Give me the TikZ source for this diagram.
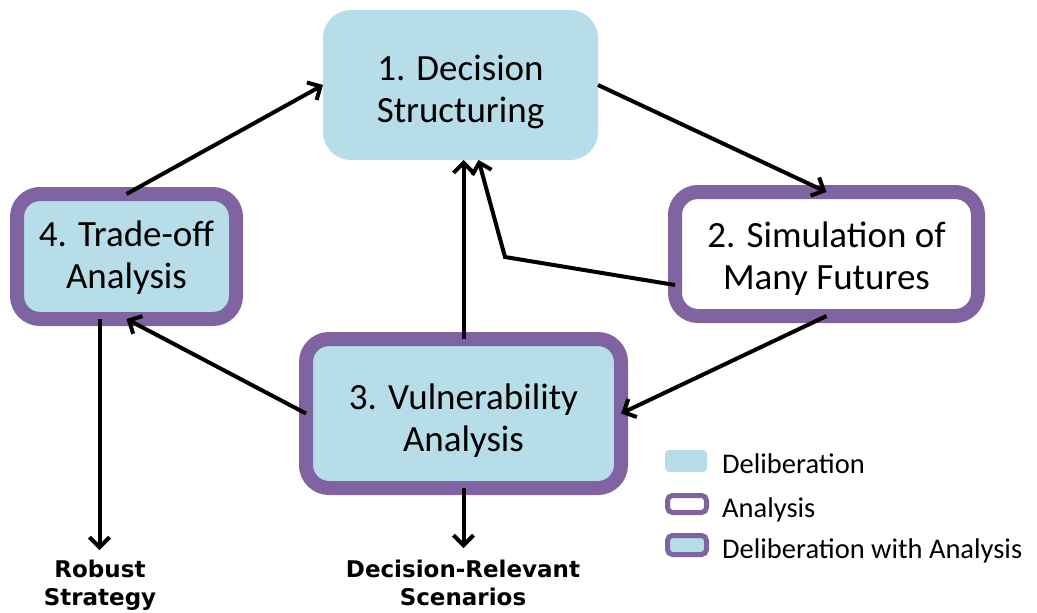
\documentclass[tikz,border=0pt]{standalone}
\usepackage{fontspec}
\setmainfont{Carlito}
\newfontfamily\lblfont{DejaVu Sans}
\usetikzlibrary{arrows.meta,calc}
\definecolor{delibblue}{HTML}{B7DEE8}
\definecolor{anpurple}{HTML}{8064A2}
\begin{document}
\begin{tikzpicture}[x=1pt,y=-1pt,
 box/.style={rectangle, inner sep=0pt, outer sep=0pt},
 boxtext/.style={align=center, inner sep=0pt, font=\fontsize{37}{42}\selectfont},
 delib/.style={box, fill=delibblue, rounded corners=28pt},
 anal/.style={box, fill=white, draw=anpurple, line width=14pt, rounded corners=23pt},
 both/.style={anal, fill=delibblue},
 conn/.style={line width=4pt, -{Straight Barb[length=10pt,width=20pt]}},
 lgtext/.style={anchor=base west, inner sep=0pt, font=\fontsize{28.5}{34}\selectfont},
 outtext/.style={align=center, inner sep=0pt, font=\lblfont\bfseries\fontsize{23}{28}\selectfont},
 lgbox/.style={rectangle, inner sep=0pt, outer sep=0pt}]
\useasboundingbox (0,0) rectangle (1037,613);

% main boxes
\node[delib, minimum width=275pt, minimum height=150pt] (b1) at (460.5,85) {};
\node[anal, minimum width=303pt, minimum height=124pt] (b2) at (826.5,254) {};
\node[both, minimum width=315pt, minimum height=149pt] (b3) at (463.5,413.5) {};
\node[both, minimum width=219pt, minimum height=125pt] (b4) at (126.5,256.5) {};
\node[boxtext] (t1) at ([yshift=-7pt]b1.center) {1. Decision\\Structuring};
\node[boxtext] (t2) at ([yshift=-5pt]b2.center) {2. Simulation of\\Many Futures};
\node[boxtext] (t3) at ([yshift=-7pt]b3.center) {3. Vulnerability\\Analysis};
\node[boxtext] (t4) at ([yshift=-1pt]b4.center) {4. Trade-off\\Analysis};

% output labels
\node[outtext, anchor=north] (rs) at (100,560) {Robust\\Strategy};
\node[outtext, anchor=north] (drs) at (463,560) {Decision-Relevant\\Scenarios};

% connectors
\draw[conn] (b4.north) -- (b1.west);
\draw[conn] (b1.east) -- (b2.north);
\draw[conn] (b2.south) -- (b3.east);
\draw[conn] (b3.west) -- (b4.south);
\draw[conn] (b3.north) -- (b3.north |- b1.south);
\coordinate (bend) at (505,257);
\draw[conn] ($(b2.south west)!0.25!(b2.north west)$) -- (bend) -- ([xshift=18pt]b1.south);
\coordinate (g0) at ([xshift=-27pt]b4.south);
\draw[conn, shorten >=10pt] (g0) -- (g0 |- rs.north);
\draw[conn, shorten >=12pt] (b3.south) -- (b3.south |- drs.north);

% legend
\node[lgbox, fill=delibblue, rounded corners=4pt, minimum width=42pt, minimum height=22pt] (lg1) at (686,461) {};
\node[lgbox, draw=anpurple, line width=5pt, fill=white, rounded corners=5pt, minimum width=39pt, minimum height=17pt] (lg2) at (687,504) {};
\node[lgbox, draw=anpurple, line width=5pt, fill=delibblue, rounded corners=5pt, minimum width=39pt, minimum height=19pt] (lg3) at (687,545) {};
\node[lgtext] (lt1) at (722,473) {Deliberation};
\node[lgtext] (lt2) at (722,517) {Analysis};
\node[lgtext] (lt3) at (722,558) {Deliberation with Analysis};
\end{tikzpicture}
\end{document}
